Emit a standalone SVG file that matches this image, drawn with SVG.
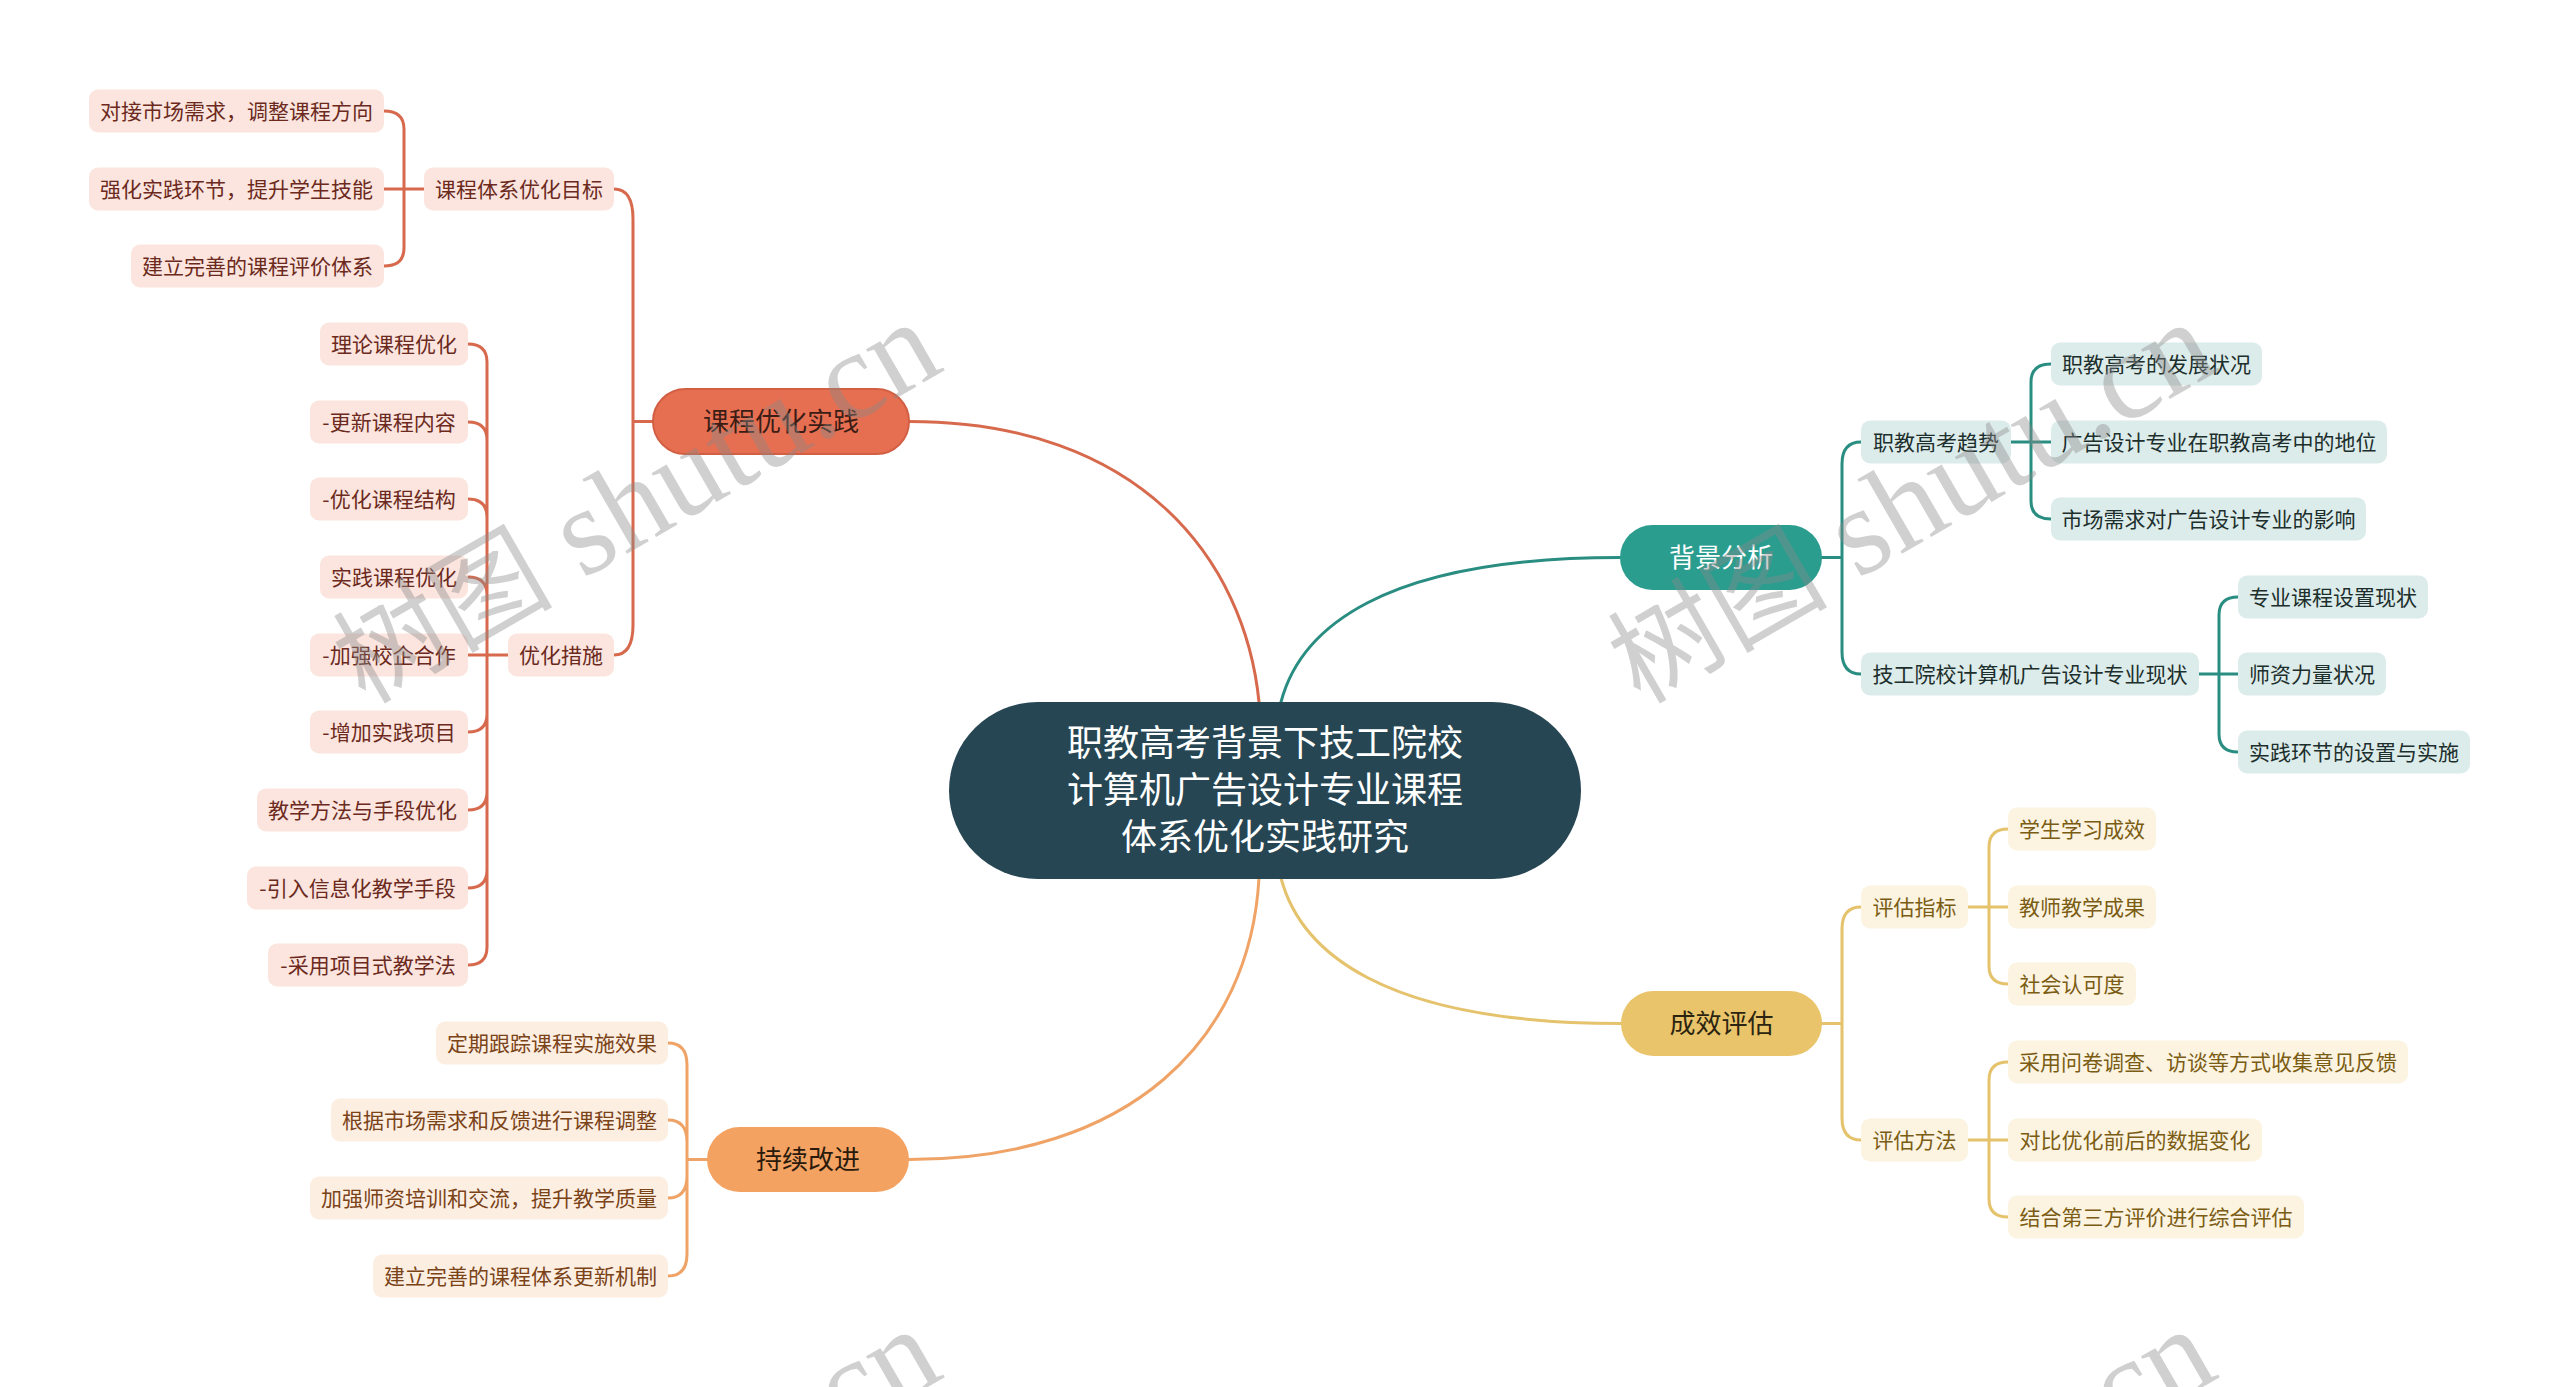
<svg xmlns="http://www.w3.org/2000/svg" width="2560" height="1387" viewBox="0 0 2560 1387">
<style>
text { font-family: "Noto Sans CJK SC", "Noto Sans", sans-serif; text-anchor: middle; }
.lf { font-size: 21px; }
.mn { font-size: 26px; }
.ct { font-size: 36px; fill: #ffffff; }
.c path, .c line { fill: none; stroke-width: 3; stroke-linecap: round; }
.cc { stroke: #d7694d; }
.ct2 { stroke: #2a8d81; }
.cy { stroke: #e5c26c; }
.co { stroke: #efa366; }
.bc rect { fill: #fbe5de; } .bc text { fill: #6b2a1d; }
.bt rect { fill: #dcecea; } .bt text { fill: #1c2f2d; }
.by rect { fill: #fcf4e1; } .by text { fill: #7b5c14; }
.bo rect { fill: #fdeee2; } .bo text { fill: #7a4318; }
.wm text { font-family: "Liberation Serif", "Noto Sans CJK SC", serif; fill: #8a8a8a; fill-opacity: 0.4; text-anchor: start; }
.wm .zh { font-family: "Noto Sans CJK SC", sans-serif; font-size: 110px; }
.wm .en { font-size: 125px; }
</style>
<rect width="2560" height="1387" fill="#ffffff"/>

<g id="connectors" class="c">
  <path class="cc" d="M 909 421.5 C 1140 421.5, 1245 560, 1259 702"/>
  <path class="ct2" d="M 1281 702 C 1300 630, 1380 557.5, 1620 557.5"/>
  <path class="cy" d="M 1281 878 C 1300 950, 1380 1023.5, 1621 1023.5"/>
  <path class="co" d="M 1259 878 C 1250 1040, 1130 1159.5, 909 1159.5"/>

  <path class="cc" d="M 653 421.5 H 633 M 633 421.5 V 219 Q 633 189 614 189 M 633 421.5 V 625 Q 633 655 614 655"/>
  <path class="cc" d="M 424 189 H 384 M 404 189 V 129 Q 404 111 384 111 M 404 189 V 248 Q 404 266 384 266"/>
  <path class="cc" d="M 508 655 H 468 M 487 655 V 362 Q 487 344 468 344 M 487 655 V 440 Q 487 422 468 422 M 487 655 V 517 Q 487 499 468 499 M 487 655 V 595 Q 487 577 468 577 M 487 655 V 714 Q 487 732 468 732 M 487 655 V 792 Q 487 810 468 810 M 487 655 V 870 Q 487 888 468 888 M 487 655 V 947 Q 487 965 468 965"/>

  <path class="co" d="M 707 1159.5 H 687 M 687 1159.5 V 1065 Q 687 1043 668 1043 M 687 1159.5 V 1142 Q 687 1120 668 1120 M 687 1159.5 V 1176 Q 687 1198 668 1198 M 687 1159.5 V 1254 Q 687 1276 668 1276"/>

  <path class="ct2" d="M 1822 557.5 H 1842 M 1842 557.5 V 464 Q 1842 442 1861 442 M 1842 557.5 V 652 Q 1842 674 1861 674"/>
  <path class="ct2" d="M 2011 442 H 2051 M 2031 442 V 382 Q 2031 364 2051 364 M 2031 442 V 501 Q 2031 519 2051 519"/>
  <path class="ct2" d="M 2199 674 H 2238 M 2219 674 V 615 Q 2219 597 2238 597 M 2219 674 V 734 Q 2219 752 2238 752"/>

  <path class="cy" d="M 1822 1023.5 H 1842 M 1842 1023.5 V 929 Q 1842 907 1861 907 M 1842 1023.5 V 1118 Q 1842 1140 1861 1140"/>
  <path class="cy" d="M 1968 907 H 2008 M 1989 907 V 847 Q 1989 829 2008 829 M 1989 907 V 966 Q 1989 984 2008 984"/>
  <path class="cy" d="M 1968 1140 H 2008 M 1989 1140 V 1080 Q 1989 1062 2008 1062 M 1989 1140 V 1199 Q 1989 1217 2008 1217"/>
</g>

<g id="root">
  <rect x="949" y="702" width="632" height="177" rx="88.5" fill="#264653"/>
  <text class="ct" x="1265" y="756">职教高考背景下技工院校</text>
  <text class="ct" x="1265" y="803">计算机广告设计专业课程</text>
  <text class="ct" x="1265" y="850">体系优化实践研究</text>
</g>

<g id="n-kcyhsj"><rect x="653" y="389" width="256" height="65" rx="32.5" fill="#e76f51" stroke="#d25f43" stroke-width="2"/><text class="mn" x="781" y="431" fill="#3b1d16">课程优化实践</text></g>
<g id="n-bjfx"><rect x="1620" y="525" width="202" height="65" rx="32.5" fill="#2a9d8f"/><text class="mn" x="1721" y="567" fill="#ffffff">背景分析</text></g>
<g id="n-cxpg"><rect x="1621" y="991" width="201" height="65" rx="32.5" fill="#e9c46a"/><text class="mn" x="1721.5" y="1033" fill="#2b2410">成效评估</text></g>
<g id="n-cxgj"><rect x="707" y="1127" width="202" height="65" rx="32.5" fill="#f4a261"/><text class="mn" x="808" y="1169" fill="#2a1a0c">持续改进</text></g>

<g class="bc">
  <g id="n-c1"><rect x="89" y="89.5" width="295" height="43" rx="9"/><text class="lf" x="236.5" y="118.5">对接市场需求，调整课程方向</text></g>
  <g id="n-c2"><rect x="89" y="167.5" width="295" height="43" rx="9"/><text class="lf" x="236.5" y="196.5">强化实践环节，提升学生技能</text></g>
  <g id="n-c3"><rect x="131" y="244.5" width="253" height="43" rx="9"/><text class="lf" x="257.5" y="273.5">建立完善的课程评价体系</text></g>
  <g id="n-cmb"><rect x="424" y="167.5" width="190" height="43" rx="9"/><text class="lf" x="519" y="196.5">课程体系优化目标</text></g>
  <g id="n-ccs"><rect x="508" y="633.5" width="106" height="43" rx="9"/><text class="lf" x="561" y="662.5">优化措施</text></g>
  <g id="n-c4"><rect x="320" y="322.5" width="148" height="43" rx="9"/><text class="lf" x="394" y="351.5">理论课程优化</text></g>
  <g id="n-c5"><rect x="310" y="400.5" width="158" height="43" rx="9"/><text class="lf" x="389" y="429.5">-更新课程内容</text></g>
  <g id="n-c6"><rect x="310" y="477.5" width="158" height="43" rx="9"/><text class="lf" x="389" y="506.5">-优化课程结构</text></g>
  <g id="n-c7"><rect x="320" y="555.5" width="148" height="43" rx="9"/><text class="lf" x="394" y="584.5">实践课程优化</text></g>
  <g id="n-c8"><rect x="310" y="633.5" width="158" height="43" rx="9"/><text class="lf" x="389" y="662.5">-加强校企合作</text></g>
  <g id="n-c9"><rect x="310" y="710.5" width="158" height="43" rx="9"/><text class="lf" x="389" y="739.5">-增加实践项目</text></g>
  <g id="n-c10"><rect x="257" y="788.5" width="211" height="43" rx="9"/><text class="lf" x="362.5" y="817.5">教学方法与手段优化</text></g>
  <g id="n-c11"><rect x="247" y="866.5" width="221" height="43" rx="9"/><text class="lf" x="357.5" y="895.5">-引入信息化教学手段</text></g>
  <g id="n-c12"><rect x="268" y="943.5" width="200" height="43" rx="9"/><text class="lf" x="368" y="972.5">-采用项目式教学法</text></g>
</g>

<g class="bo">
  <g id="n-o1"><rect x="436" y="1021.5" width="232" height="43" rx="9"/><text class="lf" x="552" y="1050.5">定期跟踪课程实施效果</text></g>
  <g id="n-o2"><rect x="331" y="1098.5" width="337" height="43" rx="9"/><text class="lf" x="499.5" y="1127.5">根据市场需求和反馈进行课程调整</text></g>
  <g id="n-o3"><rect x="310" y="1176.5" width="358" height="43" rx="9"/><text class="lf" x="489" y="1205.5">加强师资培训和交流，提升教学质量</text></g>
  <g id="n-o4"><rect x="373" y="1254.5" width="295" height="43" rx="9"/><text class="lf" x="520.5" y="1283.5">建立完善的课程体系更新机制</text></g>
</g>

<g class="bt">
  <g id="n-t1"><rect x="1861" y="420.5" width="150" height="43" rx="9"/><text class="lf" x="1936" y="449.5">职教高考趋势</text></g>
  <g id="n-t2"><rect x="1861" y="652.5" width="338" height="43" rx="9"/><text class="lf" x="2030" y="681.5">技工院校计算机广告设计专业现状</text></g>
  <g id="n-t3"><rect x="2051" y="342.5" width="211" height="43" rx="9"/><text class="lf" x="2156.5" y="371.5">职教高考的发展状况</text></g>
  <g id="n-t4"><rect x="2051" y="420.5" width="336" height="43" rx="9"/><text class="lf" x="2219" y="449.5">广告设计专业在职教高考中的地位</text></g>
  <g id="n-t5"><rect x="2051" y="497.5" width="315" height="43" rx="9"/><text class="lf" x="2208.5" y="526.5">市场需求对广告设计专业的影响</text></g>
  <g id="n-t6"><rect x="2238" y="575.5" width="190" height="43" rx="9"/><text class="lf" x="2333" y="604.5">专业课程设置现状</text></g>
  <g id="n-t7"><rect x="2238" y="652.5" width="148" height="43" rx="9"/><text class="lf" x="2312" y="681.5">师资力量状况</text></g>
  <g id="n-t8"><rect x="2238" y="730.5" width="232" height="43" rx="9"/><text class="lf" x="2354" y="759.5">实践环节的设置与实施</text></g>
</g>

<g class="by">
  <g id="n-y1"><rect x="1861" y="885.5" width="107" height="43" rx="9"/><text class="lf" x="1914.5" y="914.5">评估指标</text></g>
  <g id="n-y2"><rect x="1861" y="1118.5" width="107" height="43" rx="9"/><text class="lf" x="1914.5" y="1147.5">评估方法</text></g>
  <g id="n-y3"><rect x="2008" y="807.5" width="148" height="43" rx="9"/><text class="lf" x="2082" y="836.5">学生学习成效</text></g>
  <g id="n-y4"><rect x="2008" y="885.5" width="148" height="43" rx="9"/><text class="lf" x="2082" y="914.5">教师教学成果</text></g>
  <g id="n-y5"><rect x="2008" y="962.5" width="128" height="43" rx="9"/><text class="lf" x="2072" y="991.5">社会认可度</text></g>
  <g id="n-y6"><rect x="2008" y="1040.5" width="400" height="43" rx="9"/><text class="lf" x="2208" y="1069.5">采用问卷调查、访谈等方式收集意见反馈</text></g>
  <g id="n-y7"><rect x="2008" y="1118.5" width="254" height="43" rx="9"/><text class="lf" x="2135" y="1147.5">对比优化前后的数据变化</text></g>
  <g id="n-y8"><rect x="2008" y="1195.5" width="296" height="43" rx="9"/><text class="lf" x="2156" y="1224.5">结合第三方评价进行综合评估</text></g>
</g>

<g id="watermarks" class="wm">
  <text transform="translate(365,705) rotate(-30)"><tspan class="zh">树图</tspan><tspan class="en"> shutu.cn</tspan></text>
  <text transform="translate(1640,705) rotate(-30)"><tspan class="zh">树图</tspan><tspan class="en"> shutu.cn</tspan></text>
  <text transform="translate(365,1712) rotate(-30)"><tspan class="zh">树图</tspan><tspan class="en"> shutu.cn</tspan></text>
  <text transform="translate(1640,1712) rotate(-30)"><tspan class="zh">树图</tspan><tspan class="en"> shutu.cn</tspan></text>
</g>
</svg>
